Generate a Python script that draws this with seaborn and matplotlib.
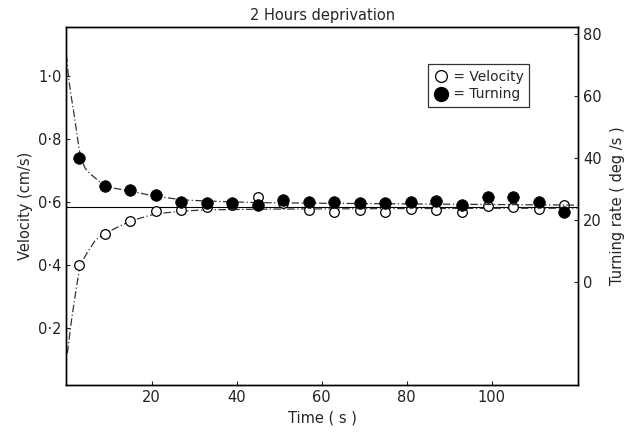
import matplotlib
matplotlib.use("Agg")
import matplotlib.pyplot as plt
from matplotlib.lines import Line2D
import seaborn as sns
import pandas as pd

# ---- data ----
time_s = [3, 9, 15, 21, 27, 33, 39, 45, 51, 57, 63, 69, 75, 81, 87, 93, 99, 105, 111, 117]
velocity = [0.400, 0.498, 0.541, 0.571, 0.576, 0.585, 0.590, 0.617, 0.597, 0.575,
            0.569, 0.575, 0.569, 0.577, 0.575, 0.569, 0.587, 0.585, 0.577, 0.590]
turning = [40.1, 31.0, 29.8, 28.0, 25.9, 25.6, 25.4, 24.8, 26.5, 25.9,
           25.9, 25.6, 25.4, 25.9, 26.2, 24.8, 27.3, 27.3, 25.9, 22.7]

# fitted curves
vel_fit_t = [0.2, 1.3, 2.5, 3.2, 4.8, 6.8, 9.1, 12.3, 15.4, 20.8, 27.2, 33, 45, 60, 80, 100, 120]
vel_fit_v = [0.12, 0.236, 0.342, 0.40, 0.437, 0.479, 0.50, 0.522, 0.541, 0.562, 0.571,
             0.575, 0.577, 0.578, 0.579, 0.580, 0.580]
turn_fit_t = [0.0, 0.5, 1.1, 1.7, 2.5, 3.0, 3.7, 4.4, 5.5, 6.8, 9.1, 12.3, 15.0, 20.8,
              27.2, 33.3, 45, 60, 80, 100, 120]
turn_fit_r = [73.2, 65.8, 60.0, 54.9, 47.4, 42.5, 39.0, 36.7, 35.0, 33.5, 30.7, 30.0,
              29.3, 27.7, 26.5, 26.1, 25.6, 25.4, 25.2, 25.0, 24.8]
equilibrium_velocity = 0.584

vel_ticks = [0.2, 0.4, 0.6, 0.8, 1.0]
vel_ticklabels = ["0·2", "0·4", "0·6", "0·8", "1·0"]
turn_ticks = [0, 20, 40, 60, 80]
time_ticks = [20, 40, 60, 80, 100]

# ---- plotting ----
sns.set_style("ticks")
plt.rcParams["font.family"] = ["DejaVu Sans"]
plt.rcParams["axes.linewidth"] = 1.0

fig = plt.figure(figsize=(6.27, 4.33), dpi=100)
ax = fig.add_axes([0.106, 0.111, 0.816, 0.827])
ax2 = ax.twinx()

df_pts = pd.DataFrame({"time": time_s, "velocity": velocity, "turning": turning})
df_vfit = pd.DataFrame({"time": vel_fit_t, "v": vel_fit_v})
df_tfit = pd.DataFrame({"time": turn_fit_t, "r": turn_fit_r})

ax.axhline(equilibrium_velocity, color="black", lw=0.8, zorder=1)
sns.lineplot(data=df_vfit, x="time", y="v", ax=ax, color="#333333", lw=0.9,
             linestyle=(0, (6, 2, 1, 2)), estimator=None, sort=False, zorder=2)
sns.lineplot(data=df_tfit, x="time", y="r", ax=ax2, color="#333333", lw=0.9,
             linestyle=(0, (6, 2, 1, 2)), estimator=None, sort=False, zorder=2)

sns.scatterplot(data=df_pts, x="time", y="velocity", ax=ax, s=48, marker="o",
                facecolor="white", edgecolor="black", linewidth=0.9, zorder=4)
sns.scatterplot(data=df_pts, x="time", y="turning", ax=ax2, s=70, marker="o",
                color="black", edgecolor="black", linewidth=0.5, zorder=5)

ax.set_xlim(0, 120.3)
ax.set_ylim(0.019, 1.156)
ax2.set_ylim(-33.2, 82.3)

ax.set_xticks(time_ticks)
ax.set_yticks(vel_ticks)
ax.set_yticklabels(vel_ticklabels)
ax2.set_yticks(turn_ticks)

for a in (ax, ax2):
    a.tick_params(direction="in", length=3, width=0.8, labelsize=10.5, colors="#222222")
    for sp in a.spines.values():
        sp.set_visible(True)
        sp.set_color("black")

ax.set_xlabel("Time ( s )", fontsize=10.5, labelpad=4)
ax.set_ylabel("Velocity (cm/s)", fontsize=10.5, labelpad=4)
ax2.set_ylabel("Turning rate ( deg /s )", fontsize=10.5, labelpad=6)
ax.set_title("2 Hours deprivation", fontsize=10.5, pad=5)

handles = [
    Line2D([], [], marker="o", linestyle="none", markersize=8.5,
           markerfacecolor="white", markeredgecolor="black", markeredgewidth=0.9),
    Line2D([], [], marker="o", linestyle="none", markersize=10,
           markerfacecolor="black", markeredgecolor="black"),
]
leg = ax.legend(handles, [" = Velocity", " = Turning"], loc="upper right",
                bbox_to_anchor=(0.905, 0.895), frameon=True, fancybox=False,
                edgecolor="black", fontsize=10, handletextpad=0.1, borderpad=0.4,
                labelspacing=0.25, handlelength=1.0, borderaxespad=0)
leg.get_frame().set_linewidth(0.9)
leg.set_zorder(10)

fig.savefig("out.png", dpi=100)
